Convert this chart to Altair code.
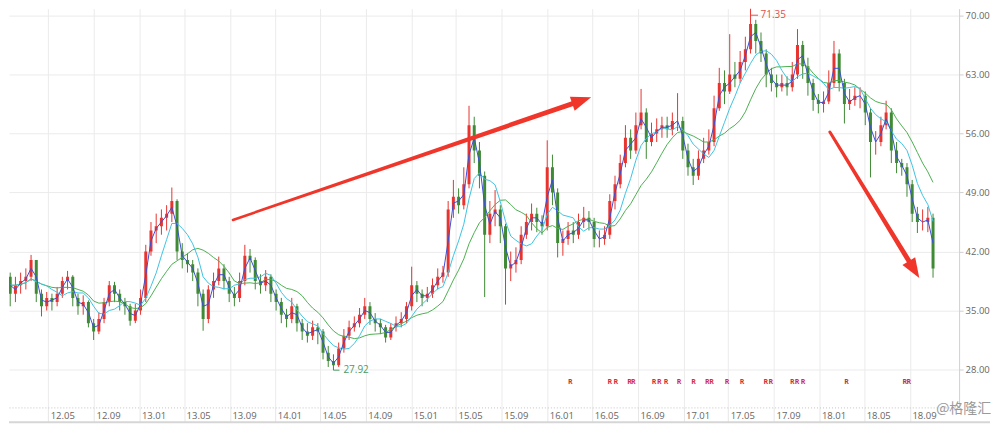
import altair as alt
import pandas as pd

# ---------------- data (2-week candles) ----------------
CLOSE = [39, 37, 38, 38.5, 39, 41, 37, 35.5, 36.5, 36,
         37, 38.5, 39, 36.5, 35.5, 36, 33.5, 32.5, 34, 36,
         38, 37, 36, 35.5, 33.8, 35, 36.5, 42, 44.5, 45,
         46, 46.5, 48, 42, 41, 40.5, 39.5, 37, 34, 37.5,
         38.5, 40, 38.5, 37, 36.5, 38.5, 41.5, 41, 38.5, 38,
         39, 37, 36, 34.5, 34, 35.5, 33.5, 32.5, 32, 33,
         32.5, 30, 29, 28.5, 30.5, 32, 33, 33.5, 34.5, 35.5,
         34, 33.5, 33, 31.8, 33, 33.5, 34, 35.5, 38, 37,
         36.5, 37, 38, 39, 39.5, 47, 48.5, 47.5, 50, 57,
         54, 51, 44, 46.5, 47, 45, 40, 40.5, 41, 44,
         45.5, 46.5, 45.5, 45, 52, 49, 43, 43.5, 44.5, 44,
         45.5, 46, 45.5, 43.5, 43.5, 44, 48, 50, 52.5, 55.5,
         54, 57, 58.5, 55, 56, 56.5, 57, 56.5, 57.5, 57.5,
         54, 52, 51, 53, 54, 55, 59, 62, 61, 63,
         62.5, 64.5, 66, 69, 67, 65.5, 63, 62, 61.5, 62,
         61.5, 63, 66.5, 64, 62, 60, 59.5, 59.8, 62, 65.5,
         62, 59.5, 60, 60.5, 60.5, 58.5, 55, 55, 57, 58.5,
         54, 52.5, 52, 50, 46.5, 45.5, 45.5, 46, 40]
HIGH = [40.5, 39.5, 39, 39.5, 40, 41.6, 41, 37.5, 37.2, 37,
        37.8, 39, 39.7, 39.2, 37, 36.8, 36.2, 34, 34.8, 36.5,
        38.5, 38.4, 37.5, 36.5, 35.8, 35.8, 37.5, 42.8, 45.5, 46.5,
        47, 47.5, 49.6, 48.2, 43, 41.8, 41, 40, 37.5, 38,
        39.5, 41.4, 40.5, 39, 37.8, 39.5, 42.8, 42.3, 41.3, 39.3,
        39.8, 39.3, 37.5, 36.5, 35.2, 36.5, 35.8, 34, 33.5, 33.8,
        33.5, 32.8, 30.8, 29.8, 31.2, 32.8, 33.8, 34.3, 35.3, 36.5,
        36, 34.7, 34, 33.3, 33.5, 34.3, 34.8, 36, 40.2, 38.5,
        37.5, 37.8, 38.8, 40, 40.3, 48, 50.5, 49.5, 52, 59.3,
        58, 55, 51.5, 48, 49.3, 47.5, 45.3, 42, 42.5, 45,
        46.5, 47.7, 47.2, 46.3, 55.2, 53.5, 49.5, 44.5, 45.5, 45.5,
        46.5, 47.3, 46.8, 46, 44.5, 45, 48.8, 51, 53.5, 57,
        56.5, 58.5, 61.3, 59, 57.3, 57.8, 58, 58, 58.5, 60.8,
        58, 54.8, 53, 54, 55.5, 56.5, 60.5, 63.8, 63.5, 67.8,
        64.5, 65.8, 67.5, 71.35, 69.5, 68, 66, 63.8, 63, 63,
        62.8, 64.5, 68.4, 67, 65, 62.5, 60.7, 61, 63.5, 67,
        66, 62.5, 61.3, 61.5, 61.5, 61, 59, 56.3, 58, 59.9,
        59, 55, 53, 52.5, 50.5, 47.3, 47, 47.3, 46.5]
LOW = [37.5, 35.5, 36, 37, 37.5, 38.5, 36, 34.3, 35, 35,
       35.5, 36.5, 37.5, 35.5, 34.5, 34.5, 33, 31.5, 32.2, 33.5,
       35.5, 36, 35, 34.5, 33.2, 33.5, 34.5, 36, 41.5, 43,
       44, 44.5, 45.5, 41, 40, 39.5, 38.5, 35.5, 32.6, 33.5,
       36.5, 38, 37.5, 36, 35.5, 36, 38, 39.5, 37.5, 37,
       37.3, 36, 35, 33.5, 33, 33.5, 32.5, 31.5, 31.2, 31.5,
       31, 29.2, 28.3, 27.92, 28.3, 30, 31.5, 32.5, 33, 34,
       33.3, 32.5, 32.2, 31.2, 31.5, 32.5, 33, 33.5, 35, 36,
       35.5, 36, 36.5, 37.5, 38.3, 39, 46, 46.5, 47, 49.5,
       52.5, 49.5, 36.6, 43, 45, 43, 35.7, 38.5, 39.5, 40.5,
       43.5, 44.5, 44.3, 44, 44.5, 47.5, 41.3, 41.5, 42.8, 43,
       43.5, 44.8, 44.5, 42.5, 42.5, 42.8, 43.5, 47, 49.5, 52,
       53, 53.6, 56.5, 53, 54.5, 55, 55.5, 55.5, 55.8, 56.3,
       53, 51, 49.9, 50.5, 52.5, 53.5, 54.5, 58.7, 59.5, 60.7,
       61.5, 62, 63.5, 65.5, 65.5, 64.5, 61.5, 61, 60.3, 61,
       60.5, 61, 62.5, 62.5, 60.5, 58.7, 58.4, 58.5, 59.5, 61.5,
       61, 57.2, 58.8, 59.3, 59, 57, 50.8, 53.5, 54.5, 56.5,
       52.5, 51.3, 51, 48.5, 45.5, 44.2, 44.5, 44.3, 38.9]
OPEN = [39.5] + CLOSE[:-1]
DATES = pd.date_range("2012-01-06", periods=len(CLOSE), freq="14D").strftime("%Y-%m-%d").tolist()

TICK_DATES = ["2012-05-01", "2012-09-01", "2013-01-01", "2013-05-01", "2013-09-01",
              "2014-01-01", "2014-05-01", "2014-09-01", "2015-01-01", "2015-05-01",
              "2015-09-01", "2016-01-01", "2016-05-01", "2016-09-01", "2017-01-01",
              "2017-05-01", "2017-09-01", "2018-01-01", "2018-05-01", "2018-09-01"]
PRICE_TICKS = [28, 35, 42, 49, 56, 63, 70]

R_DATES = ["2016-03-03", "2016-06-17", "2016-07-03", "2016-08-09", "2016-08-19",
           "2016-10-14", "2016-10-28", "2016-11-15", "2016-12-20", "2017-01-28",
           "2017-03-06", "2017-03-17", "2017-04-28", "2017-06-07", "2017-08-10",
           "2017-08-23", "2017-10-20", "2017-11-02", "2017-11-18", "2018-03-15",
           "2018-08-18", "2018-08-29"]

ARROW_ID = ["a1", "a1", "a2", "a2"]
ARROW_DATE = ["2013-09-09", "2016-03-19", "2018-01-29", "2018-09-04"]
ARROW_PRICE = [45.75, 59.71, 56.19, 40.46]
ARROW_WIDTH = [2.5, 5.0, 3.0, 5.0]
HEAD_DATE = ["2016-04-02T14:00:00Z", "2018-09-12T00:00:00Z"]
HEAD_PRICE = [59.92, 39.86]
HEAD_ANGLE = [71.3, 148.3]

PEAK_DATE, PEAK_END, PEAK_LABEL, PEAK_Y = "2017-06-30", "2017-07-20", "71.35", 70.05
LOW_DATE, LOW_END, LOW_LABEL, LOW_Y = "2014-06-06", "2014-06-22", "27.92", 27.92

UP, DOWN = "#e8342f", "#3f8a35"
ARROW_RED = "#f0352a"
FONT = "Open Sans"

# ---------------- scales / axes ----------------
def dt(s):
    y, m, d = [int(v) for v in s.split("-")]
    return alt.DateTime(year=y, month=m, date=d, utc=True)

XS = alt.Scale(type="utc", domain=[alt.DateTime(year=2012, month=1, date=30, hours=3, utc=True),
                                   alt.DateTime(year=2018, month=12, date=28, hours=14, utc=True)])
YS = alt.Scale(domain=[23.5, 70.83], zero=False, nice=False)
XA = alt.Axis(values=[dt(s) for s in TICK_DATES], format="%y.%m", title=None, orient="bottom",
              grid=True, gridColor="#ebebeb", domainColor="#c4c4c4", domainDash=[1, 2],
              tickSize=15, tickColor="#e6e6e6", labelPadding=-12, labelAlign="left",
              labelBaseline="top", labelOffset=2, labelFontSize=9.5, labelColor="#666666",
              labelFont=FONT, labelOverlap=False, labelFlush=False, labelBound=False)
YA = alt.Axis(values=PRICE_TICKS, format=".2f", title=None, orient="right", grid=True,
              gridColor="#ebebeb", domainColor="#d0d0d0", tickSize=4, tickColor="#d0d0d0",
              labelPadding=2, labelFontSize=9.5, labelColor="#666666", labelFont=FONT)

def X(f):
    return alt.X(f, scale=XS, axis=XA)

def Y(f):
    return alt.Y(f, scale=YS, axis=YA)

df = pd.DataFrame({"date": DATES, "open": OPEN, "high": HIGH, "low": LOW, "close": CLOSE})
base = alt.Chart(df)
col = alt.condition("datum.close >= datum.open", alt.value(UP), alt.value(DOWN))

wick = base.mark_rule(strokeWidth=1, clip=True).encode(x=X("date:T"), y=Y("low:Q"), y2="high:Q", color=col)
body = base.mark_bar(size=3, clip=True).encode(x=X("date:T"), y=Y("open:Q"), y2="close:Q", color=col)

def ma(n, color):
    return base.transform_window(ma="mean(close)", frame=[-(n - 1), 0], sort=[alt.SortField("date")]) \
        .mark_line(color=color, strokeWidth=1, clip=True).encode(x=X("date:T"), y=Y("ma:Q"))

ma_green = ma(12, "#4cb050")
ma_cyan = ma(6, "#3ec3e2")
ma_blue = ma(2, "#3b4fd4")

arrows = alt.Chart(pd.DataFrame({"id": ARROW_ID, "date": ARROW_DATE, "price": ARROW_PRICE, "w": ARROW_WIDTH})) \
    .mark_trail(color=ARROW_RED).encode(x=X("date:T"), y=Y("price:Q"),
                                        size=alt.Size("w:Q", scale=None, legend=None), detail="id:N")
heads = alt.Chart(pd.DataFrame({"date": HEAD_DATE, "price": HEAD_PRICE, "a": HEAD_ANGLE})) \
    .mark_point(shape="M0,-1L0.75,1L-0.75,1Z", filled=True, size=400, opacity=1,
                color=ARROW_RED, strokeWidth=0) \
    .encode(x=X("date:T"), y=Y("price:Q"), angle=alt.Angle("a:Q", scale=None))

ann = pd.DataFrame({"d": [PEAK_DATE, LOW_DATE], "d2": [PEAK_END, LOW_END],
                    "p": [PEAK_Y, LOW_Y], "t": [PEAK_LABEL, LOW_LABEL],
                    "c": ["#e0504c", "#4f9a63"]})
ann_rule = alt.Chart(ann).mark_rule(strokeWidth=1).encode(
    x=X("d:T"), x2="d2:T", y=Y("p:Q"), color=alt.Color("c:N", scale=None))
ann_text = alt.Chart(ann).mark_text(align="left", baseline="middle", dx=10, fontSize=10, font=FONT).encode(
    x=X("d:T"), y=Y("p:Q"), text="t:N", color=alt.Color("c:N", scale=None))

rmarks = alt.Chart(pd.DataFrame({"date": R_DATES})).mark_text(
    text="R", fontSize=7, fontWeight="bold", color="#d42e3c", font=FONT).encode(
    x=X("date:T"), y=alt.value(375))

bottom_line = alt.Chart(pd.DataFrame({"k": [0]})).mark_rule(color="#d6d6d6", strokeWidth=2).encode(
    x=alt.value(0), x2=alt.value(984), y=alt.value(415))

mark_wm = alt.Chart(pd.DataFrame({"t": ["@格隆汇"]})).mark_text(
    align="left", baseline="middle", fontSize=14, color="#9a9a9a", font="Noto Sans CJK SC").encode(
    text="t:N", x=alt.value(930), y=alt.value(402))

chart = alt.layer(wick, body, ma_green, ma_cyan, ma_blue, arrows, heads,
                  ann_rule, ann_text, rmarks, bottom_line, mark_wm) \
    .properties(width=953, height=400, padding=0, background="white") \
    .configure_view(stroke=None)

chart.save("out.html", embed_options={"renderer": "svg", "actions": False})
